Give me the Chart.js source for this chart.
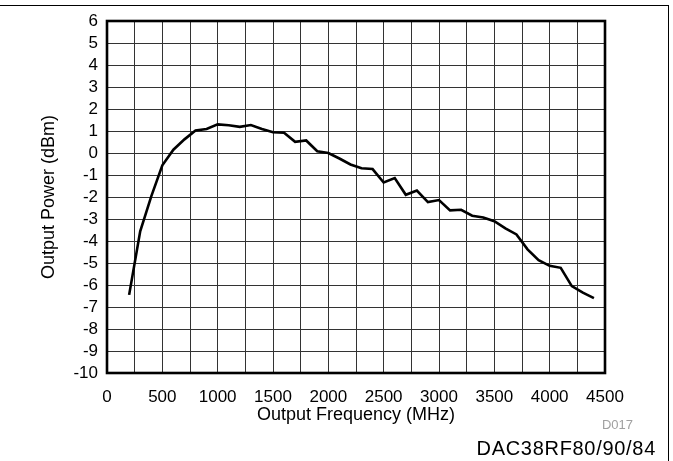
<!DOCTYPE html>
<html>
<head>
<meta charset="utf-8">
<script src="https://cdn.jsdelivr.net/npm/chart.js@4/dist/chart.umd.min.js"></script>
<style>
  body { margin: 0; background: #fff; font-family: "Liberation Sans", Arial, sans-serif; }
  #wrap { position: relative; width: 673px; height: 461px; overflow: hidden; }
  #frame { position: absolute; left: 0; top: 5px; width: 668px; height: 460px; border-top: 1px solid #000; border-right: 1px solid #000; }
  #code { position: absolute; right: 40px; top: 418px; font-size: 13px; line-height: 13px; color: #a0a0a0; }
  #part { position: absolute; right: 17px; top: 438px; font-size: 20px; line-height: 20px; letter-spacing: 0.7px; color: #000; }
  canvas { position: absolute; left: 0; top: 0; }
</style>
</head>
<body>
<div id="wrap">
  <div id="frame"></div>
  <canvas id="chart" width="673" height="461"></canvas>
  <div id="code">D017</div>
  <div id="part">DAC38RF80/90/84</div>
</div>
<script>
// output frequency (MHz)
let freqs = [200, 300, 400, 500, 600, 700, 800, 900, 1000, 1100, 1200, 1300, 1400, 1500, 1600, 1700, 1800, 1900, 2000,
  2100, 2200, 2300, 2400, 2500, 2600, 2700, 2800, 2900, 3000, 3100, 3200, 3300, 3400, 3500, 3600, 3700, 3800, 3900,
  4000, 4100, 4200, 4300, 4400]
// output power (dBm)
let power = [-6.45, -3.56, -1.97, -0.56, 0.15, 0.62, 1.02, 1.09, 1.3, 1.26, 1.19, 1.27, 1.09, 0.94, 0.92, 0.51, 0.57,
  0.08, 0.0, -0.25, -0.52, -0.69, -0.73, -1.34, -1.14, -1.9, -1.71, -2.23, -2.14, -2.61, -2.58, -2.85, -2.93, -3.1,
  -3.43, -3.7, -4.38, -4.87, -5.13, -5.22, -6.05, -6.35, -6.6]
let xTitle = 'Output Frequency (MHz)'
let yTitle = 'Output Power (dBm)'

let points = []
for (var i = 0; i < freqs.length; i++) {
  points.push({x: freqs[i], y: power[i]})
}

// thick box round the plot area
let frameBox = {
  id: 'frameBox',
  afterDraw: function (chart) {
    let a = chart.chartArea
    let ctx = chart.ctx
    ctx.save()
    ctx.strokeStyle = '#000'
    ctx.lineWidth = 2.6
    ctx.strokeRect(a.left, a.top, a.right - a.left, a.bottom - a.top)
    ctx.restore()
  }
}

let tickFont = {family: '"Liberation Sans", Arial, sans-serif', size: 17}
let titleFont = {family: '"Liberation Sans", Arial, sans-serif', size: 18}

var ctx = document.getElementById('chart').getContext('2d')
var myChart = new Chart(ctx, {
  type: 'line',
  data: {
    datasets: [{
      data: points,
      borderColor: '#000',
      borderWidth: 2.6,
      pointRadius: 0,
      tension: 0,
      fill: false
    }]
  },
  options: {
    responsive: false,
    animation: false,
    devicePixelRatio: 1,
    layout: {padding: {left: 0, right: 68, top: 21, bottom: 0}},
    plugins: {legend: {display: false}, tooltip: {enabled: false}},
    scales: {
      x: {
        type: 'linear',
        min: 0,
        max: 4500,
        afterFit: function (scale) { scale.height = 88 },
        border: {display: false},
        grid: {color: '#333', lineWidth: 1, drawTicks: false},
        ticks: {
          stepSize: 250,
          autoSkip: false,
          maxRotation: 0,
          padding: 14,
          color: '#000',
          font: tickFont,
          callback: function (v) { return v % 500 === 0 ? v : '' }
        },
        title: {display: true, text: xTitle, color: '#000', font: titleFont, padding: {top: 0, bottom: 35}}
      },
      y: {
        min: -10,
        max: 6,
        afterFit: function (scale) { scale.width = 107 },
        border: {display: false},
        grid: {color: '#333', lineWidth: 1, drawTicks: false},
        ticks: {stepSize: 1, autoSkip: false, padding: 9, color: '#000', font: tickFont},
        title: {display: true, text: yTitle, color: '#000', font: titleFont, padding: {top: 38, bottom: 0}}
      }
    }
  },
  plugins: [frameBox]
})
</script>
</body>
</html>
